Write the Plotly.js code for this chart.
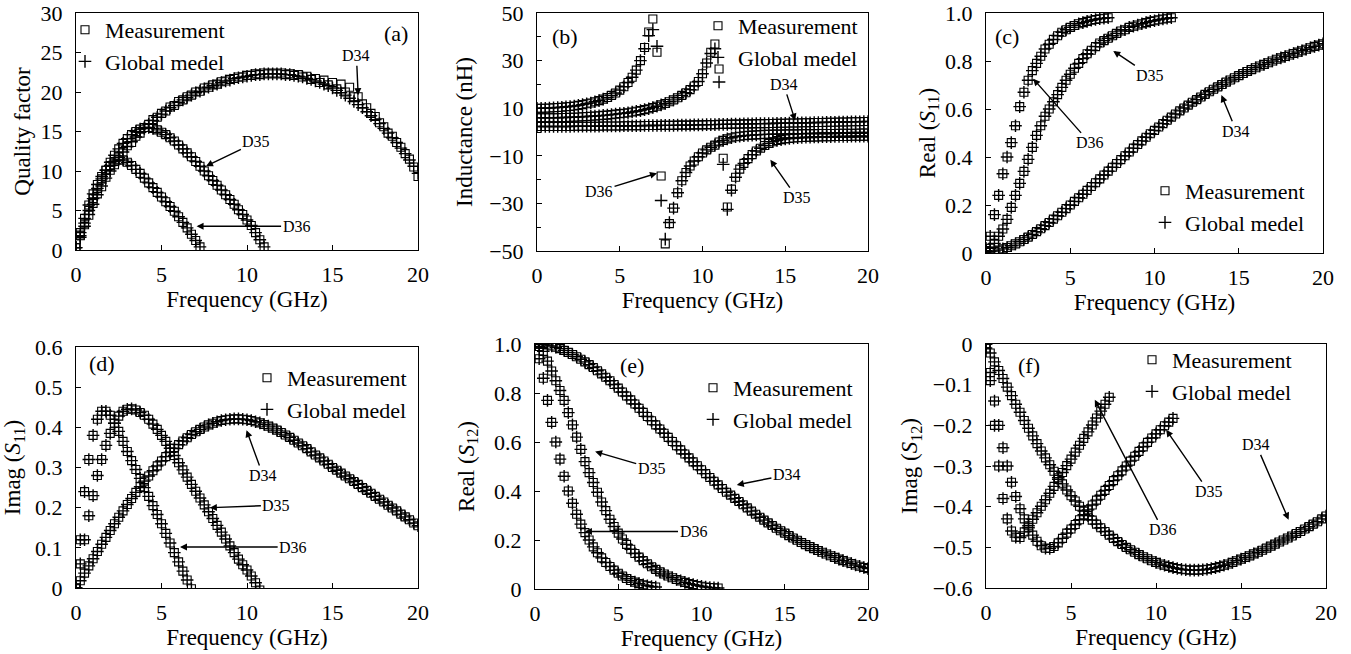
<!DOCTYPE html>
<html><head><meta charset="utf-8">
<script src="https://cdn.plot.ly/plotly-3.0.1.min.js"></script>
<style>html,body{margin:0;padding:0;background:#fff}#chart{width:1351px;height:654px}</style>
</head><body><div id="chart"></div>
<script>
// ---------- frequency grids (GHz) ----------
const f34 = [0,0.25,0.5,0.75,1,1.25,1.5,1.75,2,2.25,2.5,2.75,
 3,3.25,3.5,3.75,4,4.25,4.5,4.75,5,5.25,5.5,5.75,
 6,6.25,6.5,6.75,7,7.25,7.5,7.75,8,8.25,8.5,8.75,
 9,9.25,9.5,9.75,10,10.25,10.5,10.75,11,11.25,11.5,11.75,
 12,12.25,12.5,12.75,13,13.25,13.5,13.75,14,14.25,14.5,14.75,
 15,15.25,15.5,15.75,16,16.25,16.5,16.75,17,17.25,17.5,17.75,
 18,18.25,18.5,18.75,19,19.25,19.5,19.75,20];
const f35 = [0,0.25,0.5,0.75,1,1.25,1.5,1.75,2,2.25,2.5,2.75,
 3,3.25,3.5,3.75,4,4.25,4.5,4.75,5,5.25,5.5,5.75,
 6,6.25,6.5,6.75,7,7.25,7.5,7.75,8,8.25,8.5,8.75,
 9,9.25,9.5,9.75,10,10.25,10.5,10.75,11];
const f36 = [0,0.25,0.5,0.75,1,1.25,1.5,1.75,2,2.25,2.5,2.75,
 3,3.25,3.5,3.75,4,4.25,4.5,4.75,5,5.25,5.5,5.75,
 6,6.25,6.5,6.75,7,7.25];

// ---------- (a) Quality factor ----------
const qa34Meas = [0.8,1.9,3.2,4.4,5.9,7.1,8.0,9.2,10.1,10.8,11.8,12.4,
 13.2,13.6,14.4,14.8,15.5,15.9,16.5,16.8,17.3,17.6,18.1,18.3,
 18.8,19.0,19.4,19.6,20.0,20.1,20.5,20.6,20.9,21.0,21.3,21.4,
 21.6,21.7,21.9,21.9,22.1,22.1,22.3,22.2,22.4,22.3,22.4,22.3,
 22.4,22.2,22.3,22.1,22.2,21.9,22.0,21.6,21.7,21.2,21.5,20.9,
 21.2,20.4,21.0,20.0,20.6,19.4,19.4,18.5,18.0,17.3,16.9,16.1,
 15.6,14.8,14.4,13.6,13.0,12.2,11.5,10.5,9.3];
const qa34Model = [0.3,1.6,3.0,4.5,5.8,7.0,8.1,9.1,10.0,10.9,11.7,12.4,
 13.1,13.7,14.3,14.9,15.4,15.9,16.4,16.8,17.2,17.6,18.0,18.3,
 18.7,19.0,19.3,19.6,19.9,20.1,20.4,20.6,20.8,21.0,21.2,21.4,
 21.5,21.7,21.8,21.9,22.0,22.1,22.2,22.2,22.3,22.3,22.3,22.3,
 22.3,22.2,22.2,22.1,22.0,21.9,21.7,21.6,21.4,21.2,21.0,20.8,
 20.5,20.2,19.9,19.6,19.2,18.8,18.4,18.0,17.5,17.0,16.5,16.0,
 15.4,14.8,14.2,13.6,12.9,12.2,11.4,10.6,9.7];
const qa35 = [0.3,1.8,3.4,5.0,6.5,7.8,9.0,10.1,11.1,12.0,12.8,13.5,
 14.1,14.6,15.0,15.3,15.5,15.5,15.4,15.2,14.9,14.6,14.2,13.8,
 13.3,12.8,12.3,11.8,11.2,10.6,10.0,9.4,8.8,8.2,7.6,7.0,
 6.4,5.8,5.1,4.5,3.8,3.1,2.2,1.3,0.4];
const qa36 = [0.3,2.2,4.0,5.7,7.1,8.3,9.3,10.1,10.7,11.2,11.4,11.4,
 11.1,10.7,10.2,9.7,9.1,8.5,7.9,7.3,6.7,6.1,5.5,4.9,
 4.2,3.5,2.8,2.0,1.2,0.4];

// ---------- (b) Inductance (nH), all on the 0-20 GHz grid ----------
const lb34 = [2.3,2.3,2.3,2.3,2.3,2.3,2.3,2.3,2.3,2.4,2.4,2.4,
 2.4,2.4,2.4,2.4,2.5,2.5,2.5,2.5,2.5,2.6,2.6,2.6,
 2.6,2.6,2.7,2.7,2.7,2.7,2.8,2.8,2.8,2.8,2.9,2.9,
 2.9,2.9,3.0,3.0,3.0,3.1,3.1,3.1,3.2,3.2,3.2,3.3,
 3.3,3.3,3.4,3.4,3.4,3.5,3.5,3.5,3.6,3.6,3.7,3.7,
 3.7,3.8,3.8,3.8,3.9,3.9,3.9,4.0,4.0,4.0,4.1,4.1,
 4.1,4.2,4.2,4.2,4.3,4.3,4.3,4.4,4.4];
const lb35Meas = [6.0,6.0,6.0,6.0,6.0,6.0,6.1,6.1,6.2,6.2,6.3,6.4,
 6.5,6.6,6.7,6.8,7.0,7.1,7.3,7.5,7.7,7.9,8.1,8.4,
 8.7,9.0,9.4,9.8,10.3,10.8,11.4,12.0,12.7,13.5,14.4,15.4,
 16.5,17.8,19.3,21.2,24.5,29.0,33.5,37.0,26.5,-11.0,-31.5,-24.0,
 -19.0,-15.6,-13.2,-11.2,-9.5,-8.0,-6.8,-5.7,-4.8,-4.1,-3.6,-3.2,
 -2.9,-2.7,-2.5,-2.4,-2.3,-2.2,-2.2,-2.1,-2.1,-2.0,-2.0,-2.0,
 -1.9,-1.9,-1.9,-1.9,-1.8,-1.8,-1.8,-1.8,-1.8];
const lb35Model = [6.0,6.0,6.0,6.0,6.0,6.0,6.1,6.1,6.2,6.2,6.3,6.4,
 6.5,6.6,6.7,6.8,7.0,7.1,7.3,7.5,7.7,7.9,8.1,8.4,
 8.7,9.0,9.4,9.8,10.3,10.8,11.4,12.0,12.7,13.5,14.4,15.4,
 16.5,17.8,19.3,21.2,24.5,29.0,33.0,35.0,21.0,-13.6,-32.5,-24.5,
 -19.0,-15.6,-13.2,-11.2,-9.5,-8.0,-6.8,-5.7,-4.8,-4.1,-3.6,-3.2,
 -2.9,-2.7,-2.5,-2.4,-2.3,-2.2,-2.2,-2.1,-2.1,-2.0,-2.0,-2.0,
 -1.9,-1.9,-1.9,-1.9,-1.8,-1.8,-1.8,-1.8,-1.8];
const lb36Meas = [10.0,10.0,10.0,10.1,10.2,10.3,10.4,10.6,10.7,10.9,11.2,11.5,
 11.9,12.2,12.7,13.2,13.8,14.5,15.4,16.4,17.6,19.0,20.8,23.0,
 26.0,30.0,35.5,42.0,47.5,33.5,-18.5,-47.0,-38.5,-32.0,-25.5,-20.5,
 -17.0,-14.3,-12.2,-10.4,-8.8,-7.5,-6.4,-5.5,-4.2,-3.5,-2.9,-2.4,
 -2.0,-1.8,-1.6,-1.4,-1.3,-1.2,-1.1,-1.0,-1.0,-0.9,-0.9,-0.9,
 -0.8,-0.8,-0.8,-0.8,-0.7,-0.7,-0.7,-0.7,-0.6,-0.6,-0.6,-0.6,
 -0.6,-0.5,-0.5,-0.5,-0.5,-0.5,-0.4,-0.4,-0.4];
const lb36Model = [10.0,10.0,10.0,10.1,10.2,10.3,10.4,10.6,10.7,10.9,11.2,11.5,
 11.9,12.2,12.7,13.2,13.8,14.5,15.4,16.4,17.6,19.0,20.8,23.0,
 26.0,30.0,35.0,40.5,43.0,36.0,-28.8,-45.0,-38.0,-32.0,-25.5,-20.5,
 -17.0,-14.3,-12.2,-10.4,-8.8,-7.5,-6.4,-5.5,-4.2,-3.5,-2.9,-2.4,
 -2.0,-1.8,-1.6,-1.4,-1.3,-1.2,-1.1,-1.0,-1.0,-0.9,-0.9,-0.9,
 -0.8,-0.8,-0.8,-0.8,-0.7,-0.7,-0.7,-0.7,-0.6,-0.6,-0.6,-0.6,
 -0.6,-0.5,-0.5,-0.5,-0.5,-0.5,-0.4,-0.4,-0.4];

// ---------- (c) Real(S11) ----------
const rs11_34 = [0.005,0.006,0.008,0.012,0.017,0.023,0.030,0.038,0.047,0.056,0.066,0.077,
 0.089,0.101,0.114,0.127,0.141,0.155,0.170,0.185,0.200,0.215,0.230,0.245,
 0.261,0.277,0.293,0.309,0.325,0.341,0.357,0.373,0.389,0.405,0.421,0.437,
 0.452,0.467,0.482,0.497,0.511,0.525,0.539,0.553,0.566,0.579,0.592,0.604,
 0.616,0.628,0.639,0.650,0.661,0.672,0.682,0.692,0.702,0.712,0.721,0.730,
 0.739,0.748,0.756,0.764,0.772,0.779,0.786,0.793,0.800,0.807,0.813,0.819,
 0.825,0.831,0.837,0.843,0.849,0.855,0.861,0.866,0.872];
const rs11_35 = [0.01,0.02,0.04,0.07,0.10,0.14,0.19,0.24,0.29,0.34,0.39,0.44,
 0.49,0.53,0.57,0.60,0.63,0.66,0.69,0.72,0.745,0.77,0.79,0.81,
 0.83,0.845,0.86,0.875,0.885,0.895,0.905,0.915,0.925,0.93,0.94,0.945,
 0.95,0.955,0.96,0.965,0.968,0.972,0.975,0.978,0.98];
const rs11_36 = [0.02,0.07,0.16,0.24,0.33,0.40,0.46,0.53,0.61,0.67,0.72,0.76,
 0.79,0.82,0.85,0.87,0.89,0.905,0.92,0.93,0.94,0.948,0.955,0.96,
 0.965,0.97,0.973,0.976,0.978,0.98];

// ---------- (d) Imag(S11) ----------
const is11_34 = [0.0,0.018,0.037,0.055,0.073,0.091,0.109,0.126,0.143,0.160,0.176,0.192,
 0.208,0.223,0.238,0.252,0.266,0.279,0.292,0.304,0.316,0.327,0.338,0.348,
 0.357,0.366,0.374,0.382,0.389,0.395,0.401,0.406,0.410,0.414,0.417,0.419,
 0.420,0.421,0.421,0.420,0.419,0.417,0.414,0.411,0.407,0.403,0.398,0.393,
 0.387,0.381,0.375,0.368,0.361,0.354,0.347,0.339,0.331,0.324,0.316,0.308,
 0.300,0.293,0.286,0.279,0.272,0.265,0.258,0.250,0.243,0.236,0.228,0.221,
 0.214,0.206,0.199,0.192,0.184,0.177,0.170,0.162,0.155];
const is11_35 = [0.0,0.06,0.12,0.18,0.23,0.28,0.32,0.355,0.385,0.41,0.428,0.44,
 0.445,0.446,0.443,0.437,0.43,0.42,0.408,0.395,0.38,0.365,0.348,0.33,
 0.312,0.294,0.276,0.258,0.241,0.224,0.207,0.19,0.173,0.156,0.139,0.122,
 0.105,0.088,0.072,0.058,0.045,0.03,0.013,-0.005,-0.02];
const is11_36 = [0.0,0.12,0.24,0.32,0.38,0.42,0.44,0.44,0.43,0.41,0.39,0.365,
 0.34,0.317,0.295,0.273,0.25,0.228,0.205,0.183,0.16,0.136,0.112,0.088,
 0.065,0.042,0.02,-0.002,-0.025,-0.047];

// ---------- (e) Real(S12) ----------
const rs12_34 = [1.0,1.0,0.998,0.996,0.992,0.987,0.981,0.974,0.966,0.957,0.948,0.938,
 0.927,0.916,0.904,0.891,0.878,0.864,0.85,0.835,0.82,0.804,0.788,0.772,
 0.755,0.738,0.721,0.704,0.687,0.67,0.653,0.636,0.619,0.602,0.585,0.568,
 0.551,0.535,0.519,0.503,0.487,0.471,0.455,0.44,0.425,0.41,0.395,0.383,
 0.37,0.357,0.344,0.331,0.318,0.305,0.293,0.281,0.27,0.259,0.248,0.238,
 0.228,0.218,0.208,0.199,0.19,0.181,0.173,0.165,0.157,0.15,0.143,0.136,
 0.129,0.122,0.116,0.11,0.104,0.098,0.093,0.088,0.083];
const rs12_35 = [1.0,0.99,0.97,0.93,0.89,0.85,0.81,0.77,0.72,0.67,0.62,0.57,
 0.52,0.475,0.435,0.395,0.355,0.32,0.285,0.255,0.228,0.204,0.182,0.162,
 0.145,0.13,0.116,0.103,0.091,0.08,0.07,0.061,0.053,0.046,0.039,0.033,
 0.027,0.022,0.018,0.014,0.011,0.008,0.006,0.005,0.004];
const rs12_36 = [1.0,0.94,0.86,0.77,0.68,0.6,0.53,0.46,0.4,0.35,0.305,0.265,
 0.23,0.2,0.172,0.148,0.127,0.108,0.092,0.077,0.064,0.053,0.043,0.035,
 0.028,0.022,0.017,0.013,0.01,0.008];

// ---------- (f) Imag(S12) ----------
const is12_34 = [0.0,-0.022,-0.044,-0.065,-0.085,-0.106,-0.127,-0.148,-0.168,-0.188,-0.207,-0.226,
 -0.245,-0.263,-0.28,-0.297,-0.313,-0.329,-0.344,-0.359,-0.373,-0.386,-0.399,-0.411,
 -0.422,-0.433,-0.443,-0.452,-0.461,-0.47,-0.478,-0.486,-0.493,-0.5,-0.506,-0.512,
 -0.518,-0.523,-0.528,-0.533,-0.537,-0.541,-0.544,-0.547,-0.55,-0.552,-0.554,-0.555,
 -0.556,-0.556,-0.556,-0.555,-0.554,-0.552,-0.55,-0.547,-0.544,-0.541,-0.537,-0.533,
 -0.529,-0.525,-0.521,-0.516,-0.512,-0.507,-0.502,-0.497,-0.492,-0.487,-0.482,-0.477,
 -0.472,-0.466,-0.461,-0.455,-0.449,-0.443,-0.437,-0.43,-0.423];
const is12_35 = [0.0,-0.07,-0.14,-0.2,-0.255,-0.3,-0.34,-0.375,-0.405,-0.43,-0.452,-0.47,
 -0.485,-0.496,-0.502,-0.503,-0.498,-0.489,-0.478,-0.465,-0.455,-0.444,-0.432,-0.42,
 -0.408,-0.396,-0.384,-0.372,-0.36,-0.348,-0.336,-0.324,-0.312,-0.3,-0.288,-0.276,
 -0.264,-0.253,-0.242,-0.231,-0.221,-0.211,-0.201,-0.192,-0.183];
const is12_36 = [-0.01,-0.09,-0.2,-0.3,-0.38,-0.43,-0.46,-0.475,-0.476,-0.462,-0.447,-0.431,
 -0.415,-0.399,-0.383,-0.367,-0.35,-0.333,-0.316,-0.299,-0.283,-0.266,-0.249,-0.232,
 -0.216,-0.199,-0.182,-0.165,-0.148,-0.131];

// ---------- tick labels ----------
const xTickVals = [0,5,10,15,20];
const yTickA = [0,5,10,15,20,25,30];
const yTickB = [-50,-30,-10,10,30,50];
const yTextB = ['\u221250','\u221230','\u221210','10','30','50'];
const yTickC = [0,0.2,0.4,0.6,0.8,1.0];
const yTextC = ['0','0.2','0.4','0.6','0.8','1.0'];
const yTickD = [0,0.1,0.2,0.3,0.4,0.5,0.6];
const yTextD = ['0','0.1','0.2','0.3','0.4','0.5','0.6'];
const yTickF = [-0.6,-0.5,-0.4,-0.3,-0.2,-0.1,0];
const yTextF = ['\u22120.6','\u22120.5','\u22120.4','\u22120.3','\u22120.2','\u22120.1','0'];

const legendNames = ['Measurement','Global medel'];

// ---------- layout helpers ----------
const W = 1351, H = 654;
const FONT = 'Liberation Serif, Times New Roman, serif';
const BLACK = '#000';

const panels = [
 {s:'',  box:[76,418,13,250],  yr:[0,30],     tv:yTickA, tt:null,   yt:'Quality factor',
  data:[[f34,qa34Meas,qa34Model],[f35,qa35,qa35],[f36,qa36,qa36]], leg:[65,9], stand:3},
 {s:'2', box:[537,868,13,251], yr:[-50,50],   tv:yTickB, tt:yTextB, yt:'Inductance (nH)',
  data:[[f34,lb34,lb34],[f34,lb35Meas,lb35Model],[f34,lb36Meas,lb36Model]], leg:[698,5], stand:10, minor:true},
 {s:'3', box:[986,1323,13,253],yr:[0,1],      tv:yTickC, tt:yTextC, yt:'Real (<i>S</i><sub>11</sub>)',
  data:[[f34,rs11_34,rs11_34],[f35,rs11_35,rs11_35],[f36,rs11_36,rs11_36]], leg:[1145,170], stand:3},
 {s:'4', box:[76,418,347,588], yr:[0,0.6],    tv:yTickD, tt:yTextD, yt:'Imag (<i>S</i><sub>11</sub>)',
  data:[[f34,is11_34,is11_34],[f35,is11_35,is11_35],[f36,is11_36,is11_36]], leg:[247,357], stand:12},
 {s:'5', box:[535,868,344,589],yr:[0,1],      tv:yTickC, tt:yTextC, yt:'Real (<i>S</i><sub>12</sub>)',
  data:[[f34,rs12_34,rs12_34],[f35,rs12_35,rs12_35],[f36,rs12_36,rs12_36]], leg:[693,367], stand:13},
 {s:'6', box:[986,1326,344,588],yr:[-0.6,0],  tv:yTickF, tt:yTextF, yt:'Imag (<i>S</i><sub>12</sub>)',
  data:[[f34,is12_34,is12_34],[f35,is12_35,is12_35],[f36,is12_36,is12_36]], leg:[1132,339], stand:8}
];

const traces = [];
const layout = {
  width: W, height: H, autosize: false,
  margin: {l:0, r:0, t:0, b:0, pad:0},
  paper_bgcolor: '#fff', plot_bgcolor: '#fff',
  font: {family: FONT, color: BLACK, size: 21},
  annotations: []
};

panels.forEach((p, i) => {
  const legKey = i === 0 ? 'legend' : 'legend' + (i + 1);
  const xa = 'x' + p.s, ya = 'y' + p.s;
  p.data.forEach((d, k) => {
    traces.push({
      type: 'scatter', mode: 'markers', x: d[0], y: d[1], xaxis: xa, yaxis: ya,
      name: legendNames[0], legend: legKey, showlegend: k === 0,
      marker: {symbol: 'square-open', size: 8, color: BLACK, line: {width: 1.1, color: BLACK}},
      hoverinfo: 'skip'
    });
    traces.push({
      type: 'scatter', mode: 'markers', x: d[0], y: d[2], xaxis: xa, yaxis: ya,
      name: legendNames[1], legend: legKey, showlegend: k === 0,
      marker: {symbol: 'cross-thin-open', size: 9, color: BLACK, line: {width: 1.4, color: BLACK}},
      hoverinfo: 'skip'
    });
  });
  const [x0, x1, yTop, yBot] = p.box;
  layout['xaxis' + p.s] = {
    domain: [x0 / W, x1 / W], anchor: ya, range: [0, 20], tickmode: 'array', tickvals: xTickVals,
    ticks: 'inside', ticklen: 5, tickwidth: 1, tickcolor: BLACK, ticklabelstandoff: 5,
    ticklabeloverflow: 'allow',
    showline: true, mirror: true, linecolor: BLACK, linewidth: 1, showgrid: false, zeroline: false,
    tickfont: {family: FONT, size: 22, color: BLACK},
    title: {text: 'Frequency (GHz)', font: {family: FONT, size: 23, color: BLACK}, standoff: 2},
    automargin: false, fixedrange: true
  };
  const yax = {
    domain: [1 - yBot / H, 1 - yTop / H], anchor: xa, range: p.yr, tickmode: 'array', tickvals: p.tv,
    ticks: 'inside', ticklen: 5, tickwidth: 1, tickcolor: BLACK, ticklabelstandoff: 8,
    ticklabeloverflow: 'allow',
    showline: true, mirror: true, linecolor: BLACK, linewidth: 1, showgrid: false, zeroline: false,
    tickfont: {family: FONT, size: 22, color: BLACK},
    title: {text: p.yt, font: {family: FONT, size: 23, color: BLACK}, standoff: p.stand},
    automargin: false, fixedrange: true
  };
  if (p.tt) yax.ticktext = p.tt;
  if (p.minor) yax.minor = {tickvals: [-40, -20, 0, 20, 40], ticks: 'inside', ticklen: 4, tickcolor: BLACK};
  layout['yaxis' + p.s] = yax;
  layout[legKey] = {
    x: p.leg[0] / W, y: 1 - p.leg[1] / H, xanchor: 'left', yanchor: 'top',
    bgcolor: 'rgba(0,0,0,0)', borderwidth: 0, itemwidth: 30, tracegroupgap: 0,
    font: {family: FONT, size: 22, color: BLACK}, itemclick: false, itemdoubleclick: false
  };
});

function arrow(s, text, xt, yt, xh, yh) {
  return {xref: 'x' + s, yref: 'y' + s, axref: 'x' + s, ayref: 'y' + s,
    x: xh, y: yh, ax: xt, ay: yt, text: text, showarrow: true,
    arrowhead: 2, arrowsize: 1, arrowwidth: 1.4, arrowcolor: BLACK, standoff: 0,
    font: {family: FONT, size: 16, color: BLACK}};
}
function tag(s, text, x, y) {
  return {xref: 'x' + s, yref: 'y' + s, x: x, y: y, text: text, showarrow: false,
    font: {family: FONT, size: 22, color: BLACK}};
}
layout.annotations.push(
  tag('', '(a)', 18.7, 27.4),
  arrow('', 'D34', 16.4, 24.6, 16.5, 19.6),
  arrow('', 'D35', 10.55, 13.7, 7.6, 10.6),
  arrow('', 'D36', 12.9, 3.0, 7.05, 3.0),
  tag('2', '(b)', 1.7, 40),
  arrow('2', 'D34', 14.9, 20, 15.6, 4.8),
  arrow('2', 'D36', 3.75, -24.9, 7.25, -17.3),
  arrow('2', 'D35', 15.7, -27.6, 14.1, -11.7),
  tag('3', '(c)', 1.23, 0.904),
  arrow('3', 'D35', 9.72, 0.74, 7.55, 0.842),
  arrow('3', 'D36', 6.17, 0.459, 2.8, 0.726),
  arrow('3', 'D34', 14.86, 0.507, 13.97, 0.658),
  tag('4', '(d)', 1.5, 0.558),
  arrow('4', 'D34', 10.94, 0.28, 9.97, 0.393),
  arrow('4', 'D35', 11.72, 0.206, 7.83, 0.2),
  arrow('4', 'D36', 12.7, 0.102, 6.08, 0.102),
  tag('5', '(e)', 5.81, 0.914),
  arrow('5', 'D35', 7.01, 0.493, 3.61, 0.561),
  arrow('5', 'D34', 15.13, 0.466, 12.12, 0.425),
  arrow('5', 'D36', 9.52, 0.235, 3.0, 0.235),
  tag('6', '(f)', 2.5, -0.052),
  arrow('6', 'D34', 15.9, -0.248, 17.8, -0.432),
  arrow('6', 'D35', 13.1, -0.363, 10.6, -0.211),
  arrow('6', 'D36', 10.4, -0.457, 6.4, -0.137)
);

Plotly.newPlot('chart', traces, layout, {displayModeBar: false, staticPlot: true});
</script>
</body></html>
